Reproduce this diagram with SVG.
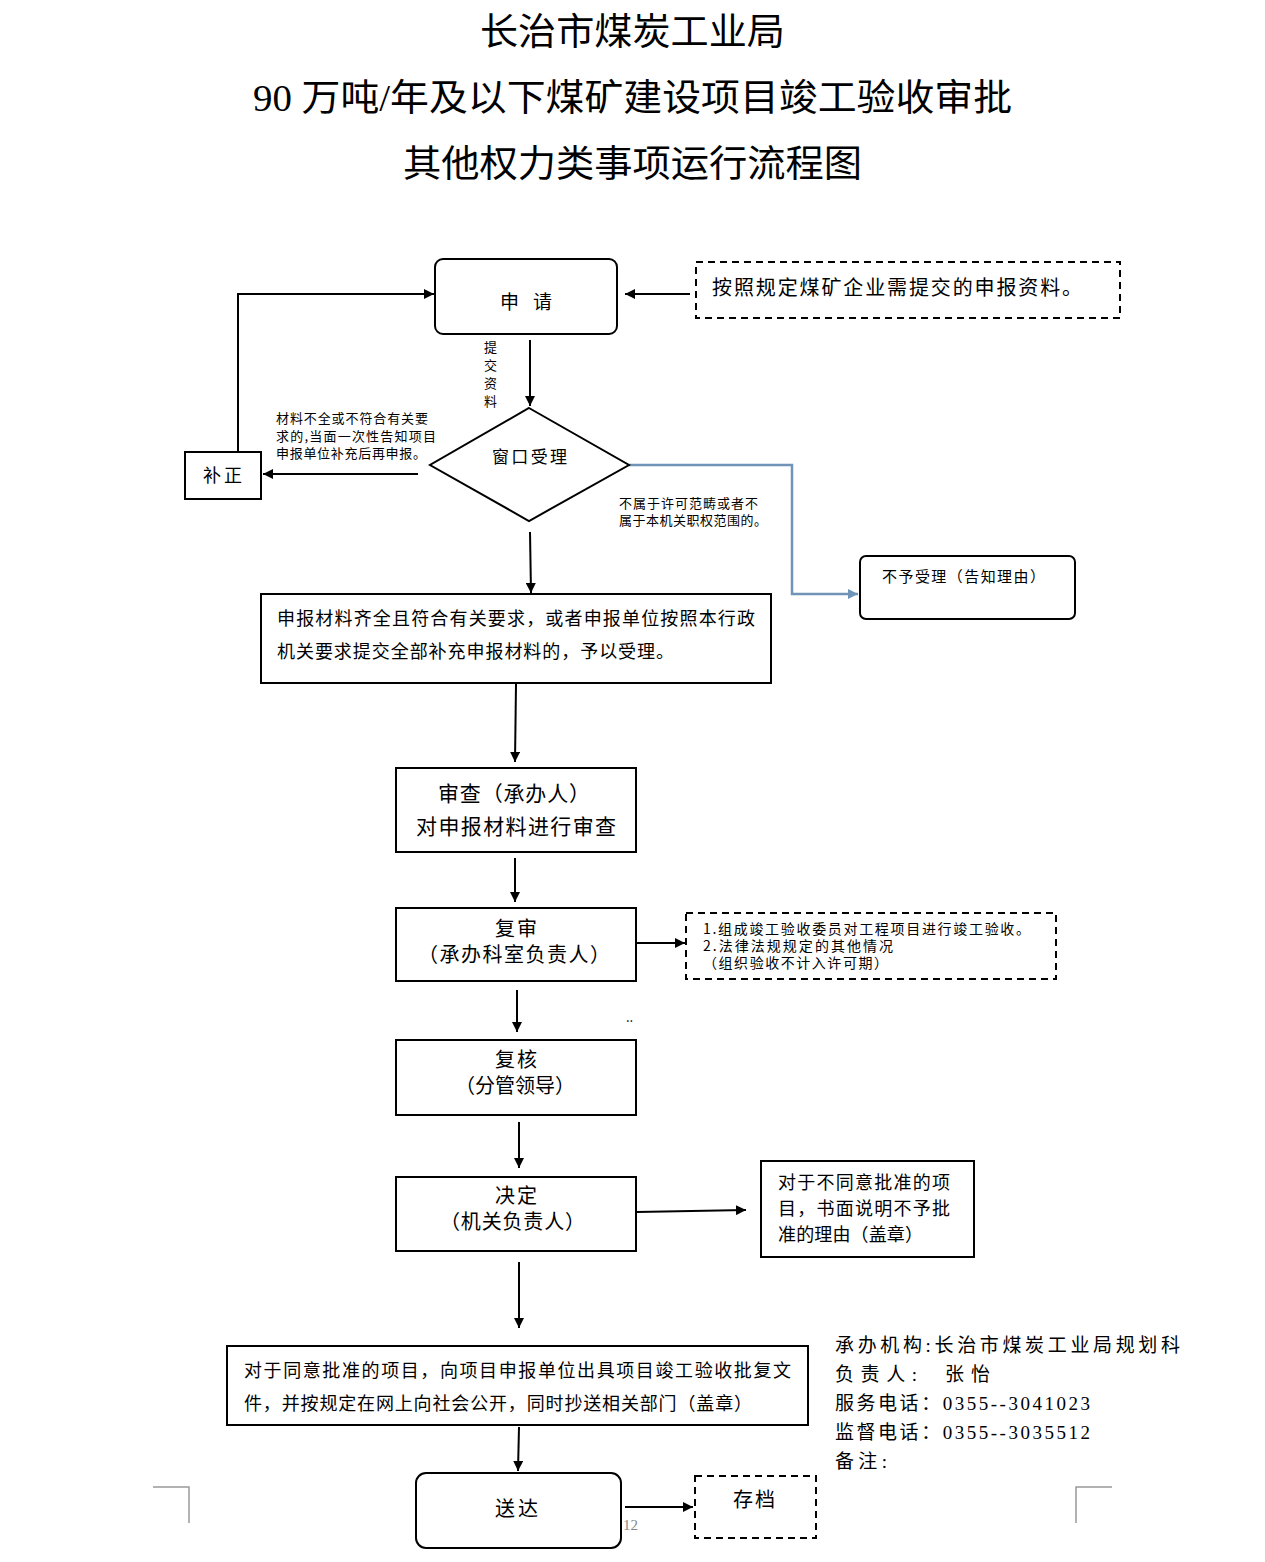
<svg xmlns="http://www.w3.org/2000/svg" width="1265" height="1562" viewBox="0 0 1265 1562">
<defs>
<marker id="ah" viewBox="0 0 10 10" refX="10" refY="5" markerWidth="10" markerHeight="10" markerUnits="userSpaceOnUse" orient="auto"><path d="M0,0 L10,5 L0,10 z" fill="#000"/></marker>
<marker id="ahb" viewBox="0 0 10 10" refX="10" refY="5" markerWidth="10" markerHeight="10" markerUnits="userSpaceOnUse" orient="auto"><path d="M0,0 L10,5 L0,10 z" fill="#6f94b8"/></marker>
</defs>
<style>
.t{font-family:"Noto Sans CJK SC","Noto Sans",sans-serif;fill:#000}
.ti{font-family:"Liberation Serif","Noto Sans CJK SC",serif;font-size:37px;fill:#000}
.box{fill:#fff;stroke:#000;stroke-width:2}
.dash{fill:#fff;stroke:#000;stroke-width:2;stroke-dasharray:7,5}
.c{fill:none;stroke:#000;stroke-width:2;marker-end:url(#ah)}
.cb{fill:none;stroke:#6f94b8;stroke-width:2.5;marker-end:url(#ahb)}
.info{font-family:"Liberation Serif","Noto Sans CJK SC",serif;font-size:19px;fill:#000}
.gray{fill:none;stroke:#999;stroke-width:1.5}
</style>
<rect width="1265" height="1562" fill="#fff"/>
<g id="title">
<text class="ti" x="480" y="45" textLength="305" lengthAdjust="spacingAndGlyphs">长治市煤炭工业局</text>
<text class="ti" x="253" y="111" textLength="759" lengthAdjust="spacingAndGlyphs">90 万吨/年及以下煤矿建设项目竣工验收审批</text>
<text class="ti" x="403" y="177" textLength="459" lengthAdjust="spacingAndGlyphs">其他权力类事项运行流程图</text>
</g>
<g id="connectors">
<path class="c" d="M690,294 L625,294"/>
<path class="c" d="M238,452 L238,294 L434,294"/>
<path class="c" d="M530,340 L530,406"/>
<path class="c" d="M418,474 L263,474"/>
<path class="cb" d="M629,465 L792,465 L792,594 L858,594"/>
<path class="c" d="M530,532 L531,593"/>
<path class="c" d="M516,684 L515,762"/>
<path class="c" d="M515,858 L515,902"/>
<path class="c" d="M637,943 L685,943"/>
<path class="c" d="M517,990 L517,1032"/>
<path class="c" d="M519,1122 L519,1168"/>
<path class="c" d="M637,1212 L746,1210"/>
<path class="c" d="M519,1262 L519,1328"/>
<path class="c" d="M519,1427 L518,1471"/>
<path class="c" d="M625,1507 L693,1507"/>
</g>
<g id="labels">
<text class="t" font-size="13"><tspan x="484" y="352">提</tspan><tspan x="484" y="370">交</tspan><tspan x="484" y="388">资</tspan><tspan x="484" y="406">料</tspan></text>
<text class="t" font-size="13"><tspan x="276" y="423" textLength="152">材料不全或不符合有关要</tspan><tspan x="276" y="441" textLength="160">求的,当面一次性告知项目</tspan><tspan x="276" y="458" textLength="150">申报单位补充后再申报。</tspan></text>
<text class="t" font-size="13"><tspan x="619" y="508" textLength="139">不属于许可范畴或者不</tspan><tspan x="619" y="525" textLength="148">属于本机关职权范围的。</tspan></text>
<text class="t" font-size="13" x="626" y="1022">..</text>
</g>
<g id="n_apply">
<rect class="box" x="435" y="259" width="182" height="75" rx="8"/>
<text class="t" font-size="19" x="500" y="309" textLength="52">申 请</text>
</g>
<g id="n_materials">
<rect class="dash" x="696" y="262" width="424" height="56"/>
<text class="t" font-size="20" x="712" y="295" textLength="370">按照规定煤矿企业需提交的申报资料。</text>
</g>
<g id="n_buzheng">
<rect class="box" x="185" y="452" width="76" height="47"/>
<text class="t" font-size="18" x="203" y="482" textLength="39">补正</text>
</g>
<g id="n_window">
<path class="box" d="M529,408 L629,465 L529,521 L430,465 z"/>
<text class="t" font-size="17" x="492" y="463" textLength="75">窗口受理</text>
</g>
<g id="n_reject">
<rect class="box" x="860" y="556" width="215" height="63" rx="6"/>
<text class="t" font-size="15" x="882" y="582" textLength="163">不予受理（告知理由）</text>
</g>
<g id="n_accept">
<rect class="box" x="261" y="594" width="510" height="89"/>
<text class="t" font-size="18"><tspan x="277" y="625" textLength="478">申报材料齐全且符合有关要求，或者申报单位按照本行政</tspan><tspan x="277" y="658" textLength="397">机关要求提交全部补充申报材料的，予以受理。</tspan></text>
</g>
<g id="n_review">
<rect class="box" x="396" y="768" width="240" height="84"/>
<text class="t" font-size="21"><tspan x="438" y="801" textLength="152">审查（承办人）</tspan><tspan x="416" y="834" textLength="200">对申报材料进行审查</tspan></text>
</g>
<g id="n_recheck">
<rect class="box" x="396" y="908" width="240" height="73"/>
<text class="t" font-size="20"><tspan x="495" y="936" textLength="42">复审</tspan><tspan x="418" y="962" textLength="192">（承办科室负责人）</tspan></text>
</g>
<g id="n_acceptance">
<rect class="dash" x="686" y="913" width="370" height="66"/>
<text class="t" font-size="14"><tspan x="703" y="934" textLength="327">1.组成竣工验收委员对工程项目进行竣工验收。</tspan><tspan x="703" y="951" textLength="190">2.法律法规规定的其他情况</tspan><tspan x="703" y="968" textLength="185">（组织验收不计入许可期）</tspan></text>
</g>
<g id="n_verify">
<rect class="box" x="396" y="1040" width="240" height="75"/>
<text class="t" font-size="20"><tspan x="495" y="1067" textLength="42">复核</tspan><tspan x="455" y="1093" textLength="120">（分管领导）</tspan></text>
</g>
<g id="n_decide">
<rect class="box" x="396" y="1177" width="240" height="74"/>
<text class="t" font-size="20"><tspan x="495" y="1203" textLength="42">决定</tspan><tspan x="440" y="1229" textLength="145">（机关负责人）</tspan></text>
</g>
<g id="n_deny">
<rect class="box" x="761" y="1161" width="213" height="96"/>
<text class="t" font-size="18"><tspan x="778" y="1189" textLength="172">对于不同意批准的项</tspan><tspan x="778" y="1215" textLength="172">目，书面说明不予批</tspan><tspan x="778" y="1241" textLength="145">准的理由（盖章）</tspan></text>
</g>
<g id="n_approve">
<rect class="box" x="227" y="1346" width="581" height="79"/>
<text class="t" font-size="18"><tspan x="244" y="1377" textLength="547">对于同意批准的项目，向项目申报单位出具项目竣工验收批复文</tspan><tspan x="244" y="1410" textLength="508">件，并按规定在网上向社会公开，同时抄送相关部门（盖章）</tspan></text>
</g>
<g id="n_deliver">
<rect class="box" x="416" y="1473" width="205" height="75" rx="10"/>
<text class="t" font-size="20" x="495" y="1516" textLength="43">送达</text>
</g>
<g id="n_archive">
<rect class="dash" x="695" y="1476" width="121" height="62"/>
<text class="t" font-size="20" x="733" y="1507" textLength="42">存档</text>
</g>
<g id="info">
<text class="info"><tspan x="835" y="1352" textLength="345">承办机构:长治市煤炭工业局规划科</tspan><tspan x="835" y="1381" textLength="82">负责人:</tspan><tspan x="945" y="1381" textLength="45">张怡</tspan><tspan x="835" y="1410" textLength="255">服务电话：0355--3041023</tspan><tspan x="835" y="1439" textLength="255">监督电话：0355--3035512</tspan><tspan x="835" y="1468" textLength="52">备注:</tspan></text>
</g>
<g id="page">
<path class="gray" d="M153,1487 L189,1487 L189,1523"/>
<path class="gray" d="M1112,1487 L1076,1487 L1076,1523"/>
<text x="623" y="1530" font-family="Liberation Serif,serif" font-size="15" fill="#888">12</text>
</g>
</svg>
